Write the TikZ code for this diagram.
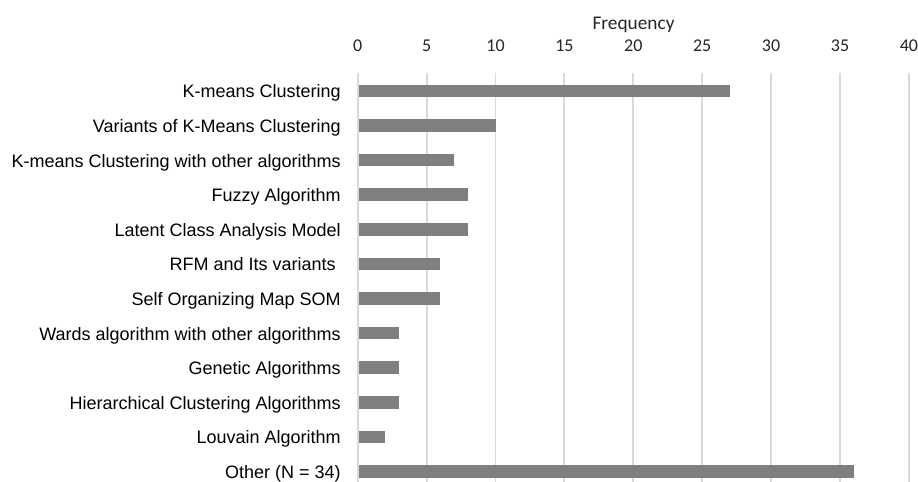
\documentclass[tikz,border=0pt]{standalone}
\usepackage{fontspec}
\setmainfont{Liberation Sans}
\newfontfamily\calib{Carlito}
\definecolor{gridgray}{HTML}{D9D9D9}
\definecolor{bargray}{HTML}{7F7F7F}
\definecolor{tickgray}{HTML}{262626}
\begin{document}
\begin{tikzpicture}[x=0.75pt,y=-0.75pt,
  gridline/.style={draw=gridgray, line width=1.4pt},
  barstyle/.style={fill=bargray, draw=none},
  catlab/.style={anchor=base east, font=\fontsize{13.5}{16}\selectfont, inner sep=0pt, text=black},
  ticklab/.style={anchor=base, font=\calib\fontsize{13.5}{16}\selectfont, inner sep=0pt, text=tickgray},
  axtitle/.style={anchor=base, font=\calib\fontsize{14.5}{17}\selectfont, inner sep=0pt, text=tickgray}]
\useasboundingbox (0,0) rectangle (918,482);
\fill[white] (0,0) rectangle (918,482);
% gridlines and tick labels
\foreach \i in {0,...,8} {
  \pgfmathtruncatemacro{\val}{5*\i}
  \draw[gridline] ({357.7+68.9*\i},72.7) -- ({357.7+68.9*\i},482);
  \node[ticklab] (tick\i) at ({357.7+68.9*\i},51.7) {\val};
}
\node[axtitle] (freq) at (633.5,29) {Frequency};
% bars and category labels
\foreach \v/\t [count=\k from 0] in {
  27/K-means Clustering,
  10/Variants of K-Means Clustering,
  7/K-means Clustering with other algorithms,
  8/Fuzzy Algorithm,
  8/Latent Class Analysis Model,
  6/RFM and Its variants\kern0.278em,
  6/Self Organizing Map SOM,
  3/Wards algorithm with other algorithms,
  3/Genetic Algorithms,
  3/Hierarchical Clustering Algorithms,
  2/Louvain Algorithm,
  36/Other (N = 34)} {
  \pgfmathsetmacro{\yc}{90.8+34.6*\k}
  \fill[barstyle] (359,{\yc-6.3}) rectangle ({357.7+13.78*\v},{\yc+6.3});
  \node[catlab] (cat\k) at (341,{\yc+7}) {\t};
}
\end{tikzpicture}
\end{document}
